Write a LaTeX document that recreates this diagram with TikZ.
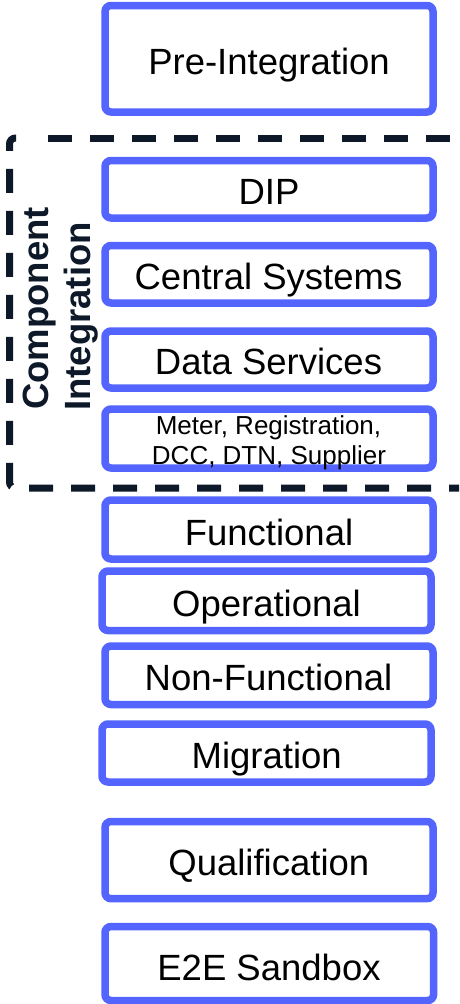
\documentclass[tikz,border=0pt]{standalone}
\usepackage{fontspec}
\setmainfont{Liberation Sans}
\definecolor{boxblue}{RGB}{84,101,255}
\definecolor{navy}{RGB}{13,25,40}
\tikzset{
  box/.style={draw=boxblue, line width=7.5pt, rounded corners=6pt, inner sep=0pt, outer sep=0pt, fill=white},
  lbl/.style={inner sep=0pt, anchor=base, text=black, font=\fontsize{36.5}{40}\selectfont},
  small/.style={inner sep=0pt, anchor=base, text=black, font=\fontsize{26}{29.5}\selectfont},
  citxt/.style={inner sep=0pt, anchor=base west, rotate=90, text=navy, font=\bfseries\fontsize{36.5}{40}\selectfont},
  frameline/.style={draw=navy, line width=7pt, dash pattern=on 24pt off 18pt}
}
\begin{document}
\begin{tikzpicture}[x=1pt,y=-1pt]
\clip (0,0) rectangle (459,1004);
\fill[white] (0,0) rectangle (459,1004);
% dashed frame
\draw[frameline, dash phase=3pt, rounded corners=6pt] (470,488) -- (9.5,488) -- (9.5,138) -- (16,138);
\draw[frameline] (48,138) -- (470,138);
% boxes
\node[box, minimum width=328pt, minimum height=106.5pt] (b1) at (269,58.75) {};
\node[box, minimum width=328pt, minimum height=57.5pt] (b2) at (269,189.25) {};
\node[box, minimum width=328pt, minimum height=57.5pt] (b3) at (269,274.25) {};
\node[box, minimum width=328pt, minimum height=57pt] (b4) at (269,359.5) {};
\node[box, minimum width=328pt, minimum height=59pt] (b5) at (269,438.5) {};
\node[box, minimum width=328pt, minimum height=59pt] (b6) at (269,529.5) {};
\node[box, minimum width=329pt, minimum height=59.5pt] (b7) at (266.5,600.75) {};
\node[box, minimum width=328pt, minimum height=58.5pt] (b8) at (269,675.25) {};
\node[box, minimum width=329pt, minimum height=58pt] (b9) at (266.5,753) {};
\node[box, minimum width=328pt, minimum height=77.2pt] (b10) at (269,860.1) {};
\node[box, minimum width=328.6pt, minimum height=74pt] (b11) at (269.3,963.5) {};
% labels
\node[lbl] (t1) at (269,74) {Pre-Integration};
\node[lbl] (t2) at (269,204) {DIP};
\node[lbl] (t3) at (268.5,289.3) {Central Systems};
\node[lbl] (t4) at (268.5,374) {Data Services};
\node[small] (t5a) at (268.5,434) {Meter, Registration,};
\node[small] (t5b) at (269,464) {DCC, DTN, Supplier};
\node[lbl] (t6) at (269,545) {Functional};
\node[lbl] (t7) at (266.5,616) {Operational};
\node[lbl] (t8) at (268.5,690.7) {Non-Functional};
\node[lbl] (t9) at (266.7,768.3) {Migration};
\node[lbl] (t10) at (268.8,875) {Qualification};
\node[lbl] (t11) at (269,980) {E2E Sandbox};
% rotated group title
\node[citxt] (ci1) at (48,410) {Component};
\node[citxt] (ci2) at (90,411) {Integration};
\end{tikzpicture}
\end{document}
